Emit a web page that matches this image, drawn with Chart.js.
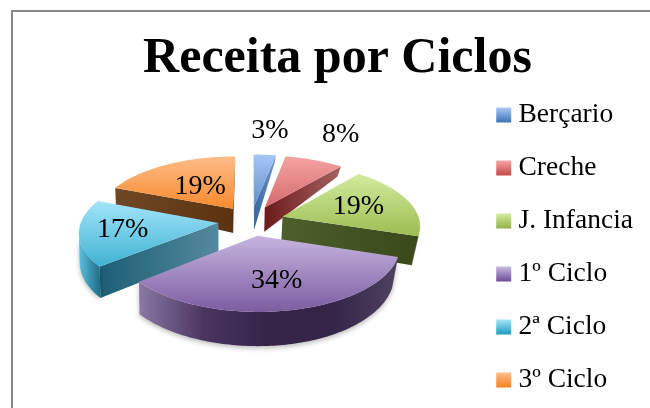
<!DOCTYPE html>
<html><head><meta charset="utf-8">
<style>html,body{margin:0;padding:0;background:#fff}#w{width:650px;height:408px}</style>
<script src="https://cdn.jsdelivr.net/npm/chart.js@4/dist/chart.umd.js"></script>
</head><body><div id="w"><canvas id="c" width="650" height="408"></canvas></div>
<script>
const categories=["Berçario","Creche","J. Infancia","1º Ciclo","2ª Ciclo","3º Ciclo"];
const values=[3,8,19,34,17,19];
const titleText="Receita por Ciclos";
const topLight=["#a6c6f6","#f4a3a3","#d2eb9e","#c6b5df","#a3e4fa","#ffbc88"];
const topDark=["#5f8fcb","#d46a6a","#9dbd52","#7c5ca0","#40b2d2","#f68a2e"];
const legendDark=["#3f78b8","#c84a4a","#94b348","#6f4f9a","#1f9fc0","#f58424"];
const cutWall=[["#3468a2","#7595c4"],["#6c1a1a","#a56262"],["#4c5f2c","#39491a"],["#8a78a4","#352448"],["#1b5f75","#55899e"],["#6e4826","#5c3210"]];
const outerWall=[["#3468a2","#3468a2"],["#a56262","#a56262"],["#3f4f1c","#39491a"],["#8b78a5","#4f4360"],["#5cc0e0","#1f6b84"],["#724d2b","#5c3210"]];
const labelRatio=[1.55,1.63,.60,.64,.69,.47];
const FONT='"Liberation Serif"';
const P=0.13,K=0.452,SHIFT_X=-3.5,SHIFT_Y=-18.8;

class Pie3D extends Chart.PieController{
  draw(){
    const ctx=this.chart.ctx, arcs=this._cachedMeta.data;
    const el0=arcs[0]; const cx=el0.x+SHIFT_X, cy=el0.y+SHIFT_Y, R=el0.outerRadius;
    const proj=(u,v)=>{const s=1/(1-P*v);return {x:cx+R*u*s,y:cy+R*K*v*s,v};};
    const bot=p=>({x:cx+(p.x-cx)*(p.x>cx?.96:.995),y:p.y+28+p.v*(p.v<0?18:5)});
    this._label=[];
    const order=arcs.map((a,i)=>i).sort((i,j)=>{
      const m=a=>Math.sin((a.startAngle+a.endAngle)/2);return m(arcs[i])-m(arcs[j]);});
    const area=q=>{let s=0;for(let i=0;i<q.length;i++){const a=q[i],b=q[(i+1)%q.length];s+=a.x*b.y-b.x*a.y;}return s;};
    const fillPoly=(pts,fill)=>{
      ctx.beginPath();pts.forEach((p,i)=>i?ctx.lineTo(p.x,p.y):ctx.moveTo(p.x,p.y));ctx.closePath();
      ctx.fillStyle=fill;ctx.fill();};
    const hGrad=(pts,cols)=>{
      const xs=pts.map(p=>p.x),a=Math.min(...xs),b=Math.max(...xs);
      const g=ctx.createLinearGradient(a,0,b+.01,0);
      cols.forEach((c,i)=>g.addColorStop(i/(cols.length-1),c));return g;};
    ctx.save();
    for(const i of order){
      const el=arcs[i],a0=el.startAngle,a1=el.endAngle,mid=(a0+a1)/2,off=el.options.offset/R;
      const ou=off*Math.cos(mid),ov=off*Math.sin(mid);
      const pt=(a,r)=>proj(ou+r*Math.cos(a),ov+r*Math.sin(a));
      const apex=proj(ou,ov),n=Math.ceil((a1-a0)/0.02),rim=[];
      for(let j=0;j<=n;j++)rim.push(pt(a0+(a1-a0)*j/n,1));
      const A=rim[0],B=rim[n];
      const q0=[apex,A,bot(A),bot(apex)],q1=[apex,B,bot(B),bot(apex)];
      if(area(q0)<0)fillPoly(q0,hGrad(q0,cutWall[i]));
      if(area(q1)>0)fillPoly(q1,hGrad(q1,cutWall[i]));
      const vis=[];
      for(let j=0;j<n;j++){
        const s=[rim[j],rim[j+1],bot(rim[j+1]),bot(rim[j])];
        if(area(s)<0){if(!vis.length)vis.push(rim[j]);vis.push(rim[j+1]);}
      }
      if(vis.length){
        const wall=vis.concat(vis.slice().reverse().map(bot));
        ctx.save();ctx.shadowColor="rgba(0,0,0,.28)";ctx.shadowBlur=5;ctx.shadowOffsetY=2;
        const cols=i===3?["#8b78a5","#4a3560","#352448","#352448","#4f4360"]:outerWall[i];
        fillPoly(wall,hGrad(wall,cols));ctx.restore();
      }
      const poly=[apex].concat(rim),ys=poly.map(p=>p.y);
      const g=ctx.createLinearGradient(0,Math.min(...ys),0,Math.max(...ys));
      g.addColorStop(0,topLight[i]);g.addColorStop(1,topDark[i]);
      fillPoly(poly,g);
      this._label[i]=pt(mid,labelRatio[i]);
    }
    ctx.restore();
  }
}
Pie3D.id="pie3d";
Chart.register(Pie3D);

const total=values.reduce((a,b)=>a+b,0);
const extras={id:"extras",
  beforeDraw(chart){
    const ctx=chart.ctx;
    ctx.save();ctx.strokeStyle="#868686";ctx.lineWidth=2;
    ctx.beginPath();ctx.moveTo(12,408);ctx.lineTo(12,11);ctx.lineTo(650,11);ctx.stroke();ctx.restore();
    const lg=chart.legend;
    lg.legendItems.forEach((it,i)=>{
      const h=lg.legendHitBoxes[i],yc=h.top+h.height/2;
      const g=ctx.createLinearGradient(0,yc-7,0,yc+7);
      g.addColorStop(0,topLight[i]);g.addColorStop(1,legendDark[i]);
      it.fillStyle=g;it.strokeStyle="rgba(0,0,0,0)";it.lineWidth=0;
    });
  },
  afterDatasetsDraw(chart){
    const ctx=chart.ctx,c=chart.getDatasetMeta(0).controller;
    ctx.save();ctx.fillStyle="#000";ctx.font="28px "+FONT;ctx.textAlign="center";ctx.textBaseline="middle";
    values.forEach((v,i)=>{const p=c._label[i];ctx.fillText(Math.round(v/total*100)+"%",p.x,p.y);});
    ctx.restore();
  }};

new Chart(document.getElementById("c"),{
  type:"pie3d",
  data:{labels:categories,datasets:[{data:values,backgroundColor:topDark,offset:33,borderWidth:0,radius:137}]},
  plugins:[extras],
  options:{responsive:false,animation:false,events:[],
    layout:{padding:{left:32,right:7,top:0,bottom:-87}},
    plugins:{
      tooltip:{enabled:false},
      title:{display:true,text:titleText,color:"#000",font:{family:FONT,size:50,weight:"bold",lineHeight:1},padding:{top:34,bottom:-13}},
      legend:{display:true,position:"right",align:"center",
        labels:{color:"#000",font:{family:FONT,size:27.5},padding:25.5,usePointStyle:true,pointStyle:"rect",boxWidth:2,boxHeight:15}}
    }}
});
</script></body></html>
